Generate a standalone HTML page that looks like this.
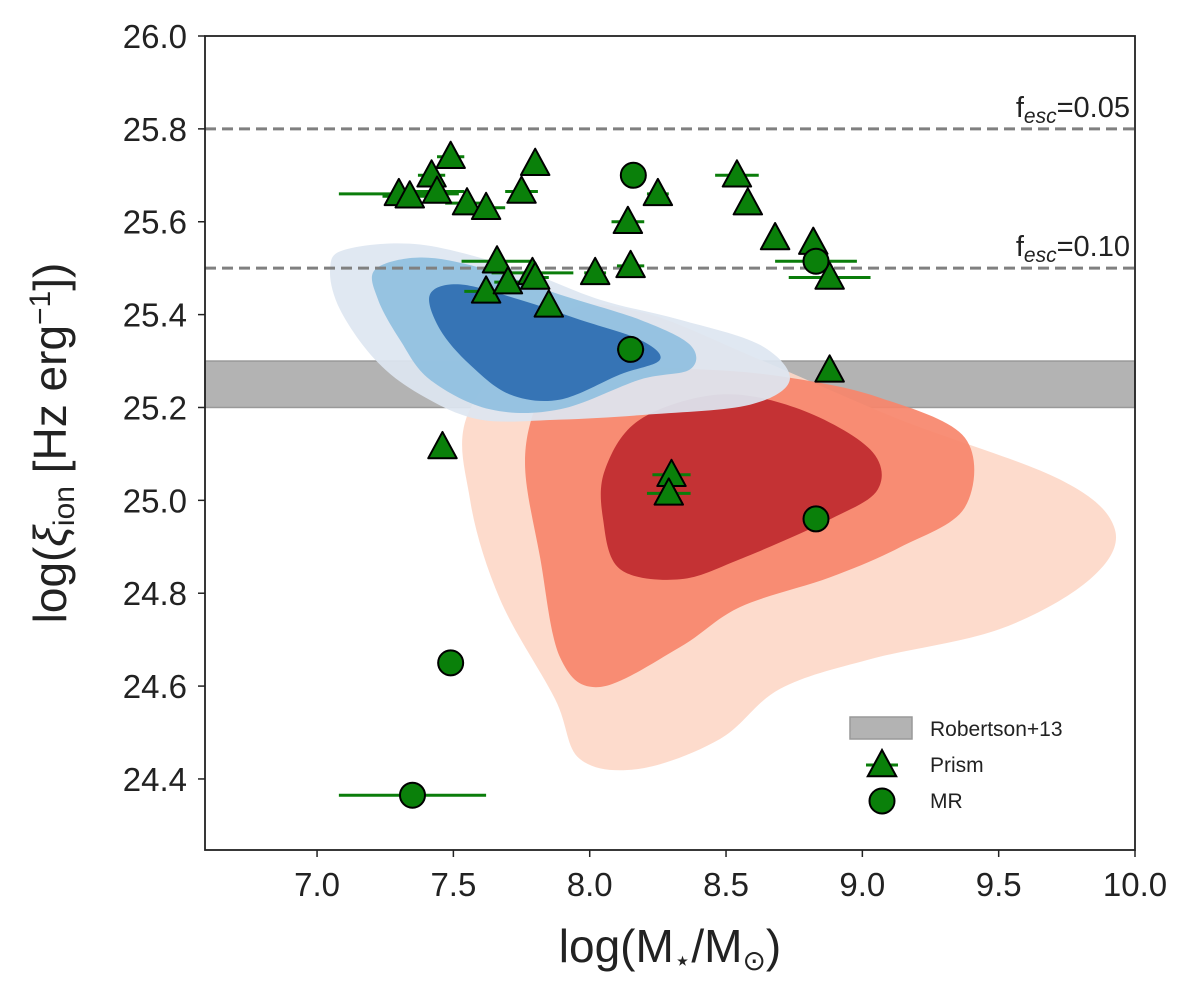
<!DOCTYPE html>
<html><head><meta charset="utf-8"><style>
body{margin:0;background:#fff}
svg text{font-family:"Liberation Sans",Arial,sans-serif;fill:#222}
</style></head><body>
<svg id="chart" width="1200" height="996" xmlns="http://www.w3.org/2000/svg">
<g id="band"></g>
<g id="contours"></g>
<g id="lines"></g>
<g id="points"></g>
<g id="axes"></g>
<g id="legend"></g>
</svg>
<script>
const xTicks=[7.0,7.5,8.0,8.5,9.0,9.5,10.0];
const yTicks=[24.4,24.6,24.8,25.0,25.2,25.4,25.6,25.8,26.0];
const prismX=[7.30,7.34,7.42,7.44,7.49,7.55,7.62,7.75,7.80,7.62,7.66,7.70,7.79,7.80,7.85,8.02,8.15,8.14,8.25,8.54,8.58,8.68,8.82,8.88,8.88,7.46,8.30,8.29];
const prismY=[25.66,25.655,25.70,25.665,25.74,25.64,25.63,25.665,25.725,25.45,25.515,25.47,25.49,25.48,25.42,25.49,25.505,25.60,25.66,25.70,25.64,25.565,25.555,25.48,25.28,25.115,25.055,25.015];
const prismXerr=[0.22,0.10,0.05,0.10,0.05,0.08,0.07,0.06,0.03,0.08,0.13,0.05,0.15,0.05,0.03,0.04,0.05,0.06,0.04,0.08,0.02,0.02,0.02,0.15,0.02,0.02,0.07,0.08];
const mrX=[8.16,8.83,8.15,8.83,7.49,7.35];
const mrY=[25.70,25.515,25.325,24.96,24.65,24.365];
const mrXerr=[0,0.15,0.05,0,0,0.27];
const fescLevels=[25.8,25.5];
const fescLabels=["0.05","0.10"];
const bandLow=25.2, bandHigh=25.3;
const redOuterX=[7.561,7.891,8.184,8.624,9.138,9.725,9.926,9.835,9.505,9.028,8.698,8.478,8.184,7.964,7.873,7.671,7.561];
const redOuterY=[25.196,25.400,25.406,25.303,25.174,25.045,24.938,24.830,24.723,24.658,24.594,24.486,24.422,24.443,24.572,24.787,25.002];
const redMidX=[7.891,8.404,8.734,9.064,9.376,9.376,9.138,8.881,8.551,8.331,8.038,7.891,7.818,7.763,7.800];
const redMidY=[25.286,25.282,25.264,25.221,25.135,24.985,24.899,24.834,24.770,24.684,24.598,24.662,24.877,25.071,25.200];
const redInX=[8.056,8.184,8.478,8.771,9.028,9.057,8.881,8.551,8.331,8.111,8.049];
const redInY=[25.066,25.174,25.228,25.196,25.110,25.024,24.959,24.873,24.830,24.852,24.959];
const blueOutX=[7.048,7.103,7.378,7.744,8.038,8.331,8.624,8.734,8.588,8.221,7.891,7.598,7.378,7.213,7.084];
const blueOutY=[25.497,25.540,25.551,25.497,25.432,25.389,25.335,25.260,25.206,25.185,25.174,25.174,25.228,25.303,25.411];
const blueMidX=[7.213,7.378,7.598,7.891,8.184,8.368,8.368,8.184,7.891,7.634,7.414,7.304,7.224];
const blueMidY=[25.497,25.523,25.501,25.443,25.389,25.335,25.282,25.260,25.196,25.196,25.260,25.346,25.432];
const blueInX=[7.414,7.524,7.744,7.964,8.184,8.258,8.111,7.891,7.708,7.561,7.451];
const blueInY=[25.443,25.465,25.432,25.389,25.346,25.303,25.271,25.217,25.228,25.292,25.368];

const L=205,R=1135,T=36,B=850;
const XMIN=6.589,XMAX=10.0,YMIN=24.247,YMAX=26.0;
function sx(v){return L+(v-XMIN)/(XMAX-XMIN)*(R-L);}
function sy(v){return B-(v-YMIN)/(YMAX-YMIN)*(B-T);}
const NS="http://www.w3.org/2000/svg";
function mk(tag,attrs,parent){const e=document.createElementNS(NS,tag);for(const k in attrs)e.setAttribute(k,attrs[k]);parent.appendChild(e);return e;}

function smoothPath(xs,ys){
  const p=xs.map((x,i)=>[sx(x),sy(ys[i])]);const n=p.length;
  let d="M"+p[0][0].toFixed(1)+","+p[0][1].toFixed(1);
  for(let i=0;i<n;i++){
    const p0=p[(i-1+n)%n],p1=p[i],p2=p[(i+1)%n],p3=p[(i+2)%n];
    const c1=[p1[0]+(p2[0]-p0[0])/6,p1[1]+(p2[1]-p0[1])/6];
    const c2=[p2[0]-(p3[0]-p1[0])/6,p2[1]-(p3[1]-p1[1])/6];
    d+="C"+c1.map(v=>v.toFixed(1)).join(",")+" "+c2.map(v=>v.toFixed(1)).join(",")+" "+p2.map(v=>v.toFixed(1)).join(",");
  }
  return d+"Z";
}

const bandG=document.getElementById('band');
const band=mk('rect',{x:L,y:sy(bandHigh),width:R-L,height:sy(bandLow)-sy(bandHigh),fill:'#b3b3b3',stroke:'#999','stroke-width':1.5},bandG);



const cg=document.getElementById('contours');
const contours=[
 [redOuterX,redOuterY,'#fdd8c8','red-contour-outer'],
 [redMidX,redMidY,'#f7866b','red-contour-middle'],
 [redInX,redInY,'#bf2a2f','red-contour-inner'],
 [blueOutX,blueOutY,'#dde6f1','blue-contour-outer'],
 [blueMidX,blueMidY,'#8fbfe0','blue-contour-middle'],
 [blueInX,blueInY,'#2e6eb1','blue-contour-inner']];
contours.forEach(c=>{
  const e=mk('path',{d:smoothPath(c[0],c[1]),fill:c[2],opacity:0.92},cg);
  
  
});

const lg=document.getElementById('lines');
fescLevels.forEach((lv,i)=>{
  const l=mk('line',{x1:L,x2:R,y1:sy(lv),y2:sy(lv),stroke:'#808080','stroke-width':3,'stroke-dasharray':'11,6'},lg);
  
  
  const t=mk('text',{x:R-5,y:sy(lv)-12,'text-anchor':'end','font-size':29},lg);
  
  
  t.innerHTML='f<tspan font-size="21" font-style="italic" dy="6">esc</tspan><tspan dy="-6">='+fescLabels[i]+'</tspan>';
});

const pg=document.getElementById('points');
function errbar(x,y,e){
  if(e<=0)return;
  const l=mk('line',{x1:sx(x-e),x2:sx(x+e),y1:sy(y),y2:sy(y),stroke:'#0a7d0a','stroke-width':3},pg);
  
  
}
function tri(cx,cy,s){return `${cx},${cy-s} ${cx-s*0.95},${cy+s*0.75} ${cx+s*0.95},${cy+s*0.75}`;}
prismX.forEach((x,i)=>errbar(x,prismY[i],prismXerr[i]));
mrX.forEach((x,i)=>errbar(x,mrY[i],mrXerr[i]));
prismX.forEach((x,i)=>{
  const p=mk('polygon',{points:tri(sx(x),sy(prismY[i]),15),fill:'#0a800a',stroke:'#000','stroke-width':2,'stroke-linejoin':'round'},pg);
  
  
});
mrX.forEach((x,i)=>{
  const c=mk('circle',{cx:sx(x),cy:sy(mrY[i]),r:12.5,fill:'#0a800a',stroke:'#000','stroke-width':2},pg);
  
  
});

const ag=document.getElementById('axes');
const frame=mk('rect',{x:L,y:T,width:R-L,height:B-T,fill:'none',stroke:'#222','stroke-width':1.8},ag);


xTicks.forEach(v=>{
  const tk=mk('line',{x1:sx(v),x2:sx(v),y1:B,y2:B+7,stroke:'#222','stroke-width':1.5},ag);
  
  
  const t=mk('text',{x:sx(v),y:B+46,'text-anchor':'middle','font-size':33},ag);
  
  
  t.textContent=v.toFixed(1);
});
yTicks.forEach(v=>{
  const tk=mk('line',{x1:L-7,x2:L,y1:sy(v),y2:sy(v),stroke:'#222','stroke-width':1.5},ag);
  
  
  const t=mk('text',{x:L-18,y:sy(v)+12,'text-anchor':'end','font-size':33},ag);
  
  
  t.textContent=v.toFixed(1);
});
const xl=mk('text',{x:(L+R)/2,y:962,'text-anchor':'middle','font-size':46},ag);


xl.innerHTML='log(M<tspan font-size="28" dy="8">⋆</tspan><tspan dy="-8">/M</tspan><tspan font-size="28" dy="8">⊙</tspan><tspan dy="-8">)</tspan>';
const yl=mk('text',{x:0,y:0,'text-anchor':'middle','font-size':46,transform:`translate(66,${(T+B)/2}) rotate(-90)`},ag);


yl.innerHTML='log(<tspan font-style="italic">ξ</tspan><tspan font-size="30" dy="8">ion</tspan><tspan dy="-8"> [Hz erg</tspan><tspan font-size="30" dy="-16">−1</tspan><tspan dy="16">])</tspan>';

const lgd=document.getElementById('legend');
const lr=mk('rect',{x:850,y:717,width:62,height:22,fill:'#b3b3b3',stroke:'#999','stroke-width':1.5},lgd);


const lt1=mk('text',{x:930,y:736,'font-size':21},lgd);


lt1.textContent='Robertson+13';
const le=mk('line',{x1:866,x2:898,y1:765,y2:765,stroke:'#0a7d0a','stroke-width':3},lgd);


const lp=mk('polygon',{points:tri(882,765,15),fill:'#0a800a',stroke:'#000','stroke-width':2},lgd);


const lt2=mk('text',{x:930,y:772,'font-size':21},lgd);


lt2.textContent='Prism';
const lc=mk('circle',{cx:882,cy:801,r:12.5,fill:'#0a800a',stroke:'#000','stroke-width':2},lgd);


const lt3=mk('text',{x:930,y:808,'font-size':21},lgd);


lt3.textContent='MR';
</script>
</body></html>
